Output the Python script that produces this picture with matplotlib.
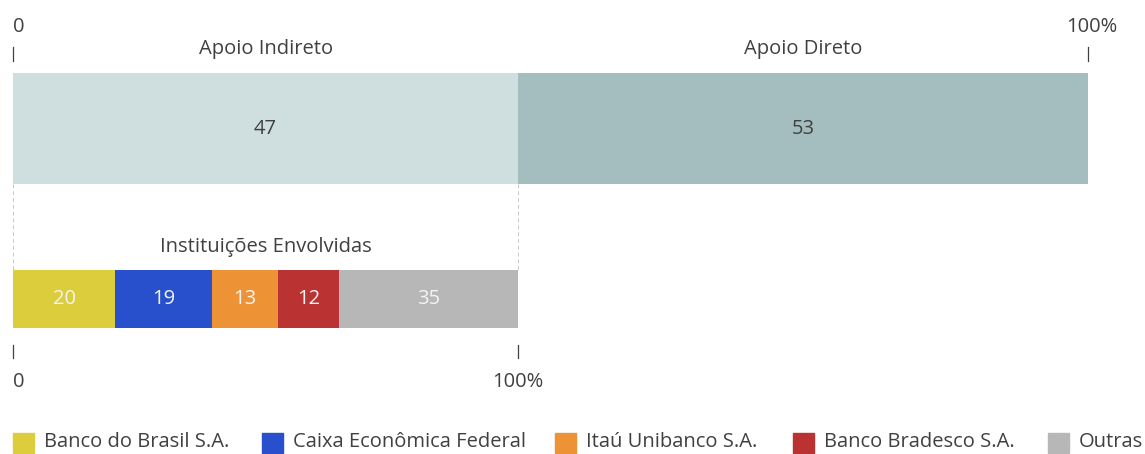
import matplotlib
matplotlib.use("Agg")
import matplotlib.pyplot as plt
from matplotlib.patches import Rectangle

plt.rcParams['font.family'] = ['Open Sans', 'DejaVu Sans']

top_labels = ["Apoio Indireto", "Apoio Direto"]
top_values = [47, 53]
top_colors = ["#cfdfe0", "#a4bdbe"]

inst_labels = ["Banco do Brasil S.A.", "Caixa Econômica Federal", "Itaú Unibanco S.A.",
               "Banco Bradesco S.A.", "Outras"]
inst_values = [20, 19, 13, 12, 35]
inst_colors = ["#dccd3c", "#2850cc", "#ee9236", "#bb3232", "#b7b7b7"]

W, H = 1145, 454
fig = plt.figure(figsize=(W / 100, H / 100), dpi=100)
txt = "#404040"
fs = 14.5

def px_axes(x0, x1, y0, y1):
    return fig.add_axes([x0 / W, 1 - y1 / H, (x1 - x0) / W, (y1 - y0) / H])

# Top bar
ax = px_axes(13, 1088, 73, 184)
tot = sum(top_values)
left = 0
for lab, v, c in zip(top_labels, top_values, top_colors):
    ax.barh(0.5, v, left=left, height=1, color=c, edgecolor="none")
    ax.text(left + v / 2, 0.5, str(v), ha="center", va="center", color=txt, fontsize=fs)
    ax.text(left + v / 2, 1.22, lab, ha="center", va="center", color=txt, fontsize=fs, clip_on=False)
    left += v
ax.set_xlim(0, tot)
ax.set_ylim(0, 1)
ax.axis("off")
for xv, lab, ha in [(0, "0", "left"), (tot, "100%", "center")]:
    ax.plot([xv, xv], [1.11, 1.235], color=txt, lw=0.9, clip_on=False)
    ax.text(xv + (0.35 if ha == "center" else 0), 1.41, lab, ha=ha, va="center", color=txt,
            fontsize=fs, clip_on=False)
for xv in [0, top_values[0]]:
    ax.plot([xv, xv], [0, -0.775], color="#c8c8c8", lw=0.7, ls=(0, (4, 3)), clip_on=False)

# Bottom bar
ax2 = px_axes(13, 518, 270, 328)
tot2 = sum(inst_values)
left = 0
for lab, v, c in zip(inst_labels, inst_values, inst_colors):
    ax2.barh(0.5, v, left=left, height=1, color=c, edgecolor="none")
    ax2.text(left + v / 2, 0.5, str(v), ha="center", va="center", color="#f4f4f4", fontsize=fs)
    left += v
ax2.set_xlim(0, tot2)
ax2.set_ylim(0, 1)
ax2.axis("off")
ax2.text(tot2 / 2, 1.40, "Instituições Envolvidas", ha="center", va="center", color=txt,
         fontsize=fs, clip_on=False)
for xv, lab in [(0, "0"), (tot2, "100%")]:
    ax2.plot([xv, xv], [-0.29, -0.52], color=txt, lw=0.9, clip_on=False)
    ax2.text(xv, -0.93, lab, ha="left" if xv == 0 else "center", va="center", color=txt,
             fontsize=fs, clip_on=False)

# Legend (manual)
leg_x = [13, 262, 555, 793, 1048]
ly = 443
for x, lab, c in zip(leg_x, inst_labels, inst_colors):
    fig.patches.append(Rectangle((x / W, 1 - (ly + 10) / H), 21 / W, 20 / H,
                                 transform=fig.transFigure, color=c))
    fig.text((x + 31) / W, 1 - (ly - 1) / H, lab, ha="left", va="center", color=txt, fontsize=fs)

fig.savefig("out.png", dpi=100, facecolor="white")
